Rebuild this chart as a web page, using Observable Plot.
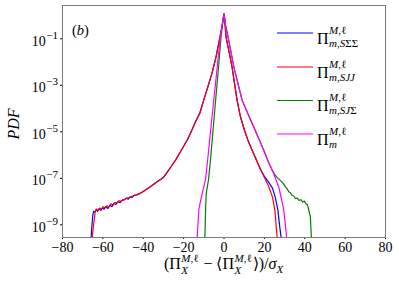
<!DOCTYPE html>
<html>
<head>
<meta charset="utf-8">
<script src="https://cdn.jsdelivr.net/npm/d3@7"></script>
<script src="https://cdn.jsdelivr.net/npm/@observablehq/plot@0.6"></script>
<style>
  html, body { margin: 0; padding: 0; background: #fff; }
  #root { width: 399px; height: 290px; }
</style>
</head>
<body>
<div id="root"></div>
<script>
// ---- data: [x, log10(PDF)] ----
const seriesSSS = [[-66.2,-10],[-65.8,-9.5],[-65.4,-9.0],[-65.0,-8.6],[-64.6,-8.42],[-64.0,-8.45],[-63.3,-8.35],[-62.6,-8.42],[-61.8,-8.3],[-61.0,-8.38],[-60.2,-8.28],[-59.4,-8.33],[-58.5,-8.22],[-57.5,-8.3],[-56.5,-8.16],[-55.5,-8.22],[-54.5,-8.08],[-53.5,-8.12],[-52.5,-8.0],[-51.5,-8.05],[-50.5,-7.95],[-49.5,-7.93],[-48.5,-7.86],[-47.5,-7.9],[-46.5,-7.8],[-45.5,-7.82],[-44.5,-7.74],[-43.5,-7.72],[-42,-7.67],[-40,-7.57],[-38,-7.45],[-36,-7.33],[-34,-7.2],[-32,-7.08],[-30,-6.96],[-28,-6.72],[-26,-6.47],[-24,-6.22],[-22,-5.92],[-20,-5.62],[-18,-5.32],[-16,-4.94],[-14,-4.55],[-12,-4.2],[-10,-3.63],[-8,-3.07],[-6,-2.5],[-4,-1.8],[-2,-0.93],[-1,-0.5],[-0.4,-0.15],[0,0.07],[0.5,-0.35],[1,-0.92],[2,-1.35],[3,-1.78],[4,-2.22],[5,-2.8],[6.5,-3.65],[8,-4.3],[10,-4.9],[12,-5.4],[14,-5.8],[16,-6.2],[18,-6.6],[20,-6.92],[22,-7.15],[24,-7.42],[25.5,-7.85],[26.7,-8.37],[27.5,-9.0],[28.3,-9.55],[28.6,-10]];
const seriesSJJ = [[-65.8,-10],[-65.3,-9.55],[-64.6,-9.0],[-63.8,-8.45],[-63.2,-8.32],[-62.5,-8.38],[-61.6,-8.28],[-60.8,-8.33],[-59.8,-8.22],[-59,-8.27],[-58,-8.18],[-57,-8.22],[-56,-8.1],[-55,-8.14],[-54,-8.03],[-53,-8.06],[-52,-7.96],[-51,-7.99],[-50,-7.92],[-49,-7.9],[-48,-7.84],[-47,-7.85],[-46,-7.78],[-45,-7.76],[-44,-7.72],[-43,-7.7],[-42,-7.66],[-40,-7.57],[-38,-7.45],[-36,-7.33],[-34,-7.2],[-32,-7.08],[-30,-6.96],[-28,-6.72],[-26,-6.47],[-24,-6.22],[-22,-5.92],[-20,-5.62],[-18,-5.32],[-16,-4.94],[-14,-4.55],[-12,-4.2],[-10,-3.63],[-8,-3.07],[-6,-2.5],[-4,-1.8],[-2,-0.93],[-1,-0.5],[-0.4,-0.15],[0,0.07],[0.5,-0.35],[1,-0.92],[2,-1.35],[3,-1.78],[4,-2.22],[5,-2.8],[6.5,-3.65],[8,-4.3],[10,-4.9],[12,-5.4],[14,-5.8],[16,-6.2],[18,-6.6],[20,-6.95],[22,-7.32],[24,-7.8],[25.2,-8.37],[25.8,-9.0],[26.3,-9.55],[26.6,-10]];
const seriesSJS = [[-9.6,-10],[-9.5,-9.6],[-9.3,-9.0],[-9.1,-8.3],[-8.8,-7.65],[-7.7,-7.08],[-6.7,-6.22],[-5.5,-5.0],[-4.5,-4.0],[-3.5,-3.0],[-2.5,-2.0],[-1.55,-1.0],[-0.8,-0.4],[-0.3,-0.1],[0,0.07],[0.4,-0.15],[0.8,-0.45],[1.7,-0.79],[3,-1.37],[4.9,-2.22],[7,-2.95],[9,-3.65],[11,-4.05],[12.7,-4.4],[15,-4.85],[18,-5.45],[20.4,-5.94],[22,-6.3],[23.9,-6.65],[25,-6.82],[26.5,-6.98],[28,-7.1],[29.6,-7.25],[30.5,-7.38],[31.3,-7.45],[32.1,-7.58],[32.9,-7.62],[33.7,-7.74],[34.5,-7.75],[35.4,-7.87],[36.3,-7.85],[37.2,-7.95],[38.1,-7.92],[39,-8.02],[39.8,-7.98],[40.6,-8.1],[41.2,-8.12],[41.7,-8.25],[42.2,-8.45],[42.8,-8.66],[43.1,-9.2],[43.3,-9.6],[43.4,-10]];
const seriesM = [[-13.6,-10],[-13.3,-9.55],[-12.9,-9.0],[-12.5,-8.37],[-11.7,-8.0],[-10.8,-7.65],[-9.2,-7.08],[-8.2,-6.3],[-6.7,-5.0],[-5.5,-4.0],[-4.3,-3.0],[-3.1,-2.0],[-1.9,-1.0],[-1.0,-0.45],[-0.4,-0.1],[0,0.07],[0.4,-0.15],[0.8,-0.45],[1.7,-0.79],[3,-1.37],[4.9,-2.22],[7,-2.95],[9,-3.65],[11,-4.05],[12.7,-4.4],[15,-4.85],[18,-5.45],[20.4,-5.94],[22,-6.3],[23.9,-6.65],[25.5,-7.0],[27.1,-7.37],[28.5,-7.9],[29.6,-8.37],[30.4,-9.0],[31,-9.55],[31.2,-10]];

const seriesColors = ["blue", "red", "green", "magenta"];
const xTicks = [-80, -60, -40, -20, 0, 20, 40, 60, 80];
const yTickExps = [-1, -3, -5, -7, -9];
const yDomain = [2.85e-10, 2.7];

const FONT = "Liberation Serif";
const toRows = (s) => s.map(([x, l]) => ({x, p: Math.pow(10, l)}));
const allSeries = [seriesSSS, seriesSJJ, seriesSJS, seriesM];

const chart = Plot.plot({
  width: 399,
  height: 290,
  marginLeft: 62,
  marginRight: 14,
  marginTop: 5,
  marginBottom: 53,
  style: {fontFamily: FONT, fontSize: "14px", color: "#000", background: "#fff"},
  x: {domain: [-80, 80]},
  y: {type: "log", domain: yDomain},
  marks: [
    ...allSeries.map((s, i) => Plot.line(toRows(s), {x: "x", y: "p", stroke: seriesColors[i], strokeWidth: 1.2, clip: true})),
    Plot.axisX(xTicks, {tickSize: 2, tickPadding: 2.5, label: null, fontSize: 14,
      tickFormat: d => d < 0 ? "\u2212" + Math.abs(d) : String(d)}),
    Plot.axisY(yTickExps.map(e => Math.pow(10, e)), {tickSize: 2, label: null, tickFormat: () => ""}),
    Plot.frame({stroke: "#7a7a7a", strokeWidth: 1})
  ]
});
document.getElementById("root").appendChild(chart);

const svg = d3.select(chart);
const ys = chart.scale("y");
const xs = chart.scale("x");

// canvas-based width measurement
const mctx = document.createElement("canvas").getContext("2d");
function measure(parts, size) {
  let w = 0;
  for (const [str, it] of parts) {
    mctx.font = `${it ? "italic " : ""}${size}px "${FONT}"`;
    w += mctx.measureText(str).width;
  }
  return w;
}

// math-like text: each piece is its own start-anchored text; "stack" segments share start x with previous
function mathText(parent, x, y, segs, anchor) {
  const g = parent.append("g").attr("text-anchor", "start");
  let cx = 0, lastStart = 0;
  const placed = [];
  for (const s of segs) {
    const x0 = s.stack ? lastStart : cx;
    const w = measure(s.parts, s.size) + (s.dx || 0);
    placed.push([s, x0]);
    lastStart = x0;
    cx = Math.max(cx, x0 + w);
  }
  let ox = x;
  if (anchor === "end") ox = x - cx;
  else if (anchor === "middle") ox = x - cx / 2;
  for (const [s, x0] of placed) {
    let px = ox + x0 + (s.dx || 0);
    for (const [str, it] of s.parts) {
      g.append("text").attr("x", px).attr("y", y + (s.dy || 0))
        .attr("text-anchor", "start")
        .attr("font-family", FONT).attr("font-size", s.size)
        .attr("font-style", it ? "italic" : "normal").attr("fill", "#000")
        .style("white-space", "pre").text(str);
      px += measure([[str, it]], s.size);
    }
  }
  return g;
}

// y tick labels 10^e
for (const e of yTickExps) {
  const y = ys.apply(Math.pow(10, e));
  mathText(svg, 58, y + 7.4, [
    {parts: [["10", false]], size: 14},
    {parts: [["\u2212" + Math.abs(e), false]], size: 11, dy: -7, dx: 0.5}
  ], "end");
}

// y label
svg.append("text").attr("transform", "translate(19,124) rotate(-90)")
  .attr("text-anchor", "middle").attr("font-family", FONT).attr("font-size", 16)
  .attr("font-style", "italic").text("PDF");

// panel tag (b)
mathText(svg, 72, 35, [{parts: [["(", false], ["b", true], [")", false]], size: 14.5}], "start");

// x label: (Π_X^{M,ℓ} − ⟨Π_X^{M,ℓ}⟩)/σ_X
const supML = {parts: [["M", true], [",\u2113", false]], size: 11, dy: -7, dx: 0.5};
const subX = {parts: [["X", true]], size: 11, dy: 4.5, stack: true, dx: 0.5};
mathText(svg, xs.apply(0), 269, [
  {parts: [["(\u03A0", false]], size: 16},
  supML, subX,
  {parts: [[" \u2212 \u27E8\u03A0", false]], size: 16, dx: 1},
  supML, subX,
  {parts: [["\u27E9)/", false], ["\u03C3", true]], size: 16, dx: 1},
  {parts: [["X", true]], size: 11, dy: 3.5}
], "middle");

// legend
const legendSubs = [
  [["m", true], [",", false], ["S", true], ["\u03A3\u03A3", false]],
  [["m", true], [",", false], ["SJJ", true]],
  [["m", true], [",", false], ["SJ", true], ["\u03A3", false]],
  [["m", true]]
];
const legendY = [33, 67, 100.5, 134];
legendSubs.forEach((sub, i) => {
  svg.append("line").attr("x1", 277).attr("x2", 313).attr("y1", legendY[i]).attr("y2", legendY[i])
    .attr("stroke", seriesColors[i]).attr("stroke-width", 1.2);
  mathText(svg, 317, legendY[i] + 10.7, [
    {parts: [["\u03A0", false]], size: 16},
    {parts: [["M", true], [",\u2113", false]], size: 11, dy: -10, dx: 0.5},
    {parts: sub, size: 11, dy: 3, stack: true, dx: 0.5}
  ], "start");
});
</script>
</body>
</html>
